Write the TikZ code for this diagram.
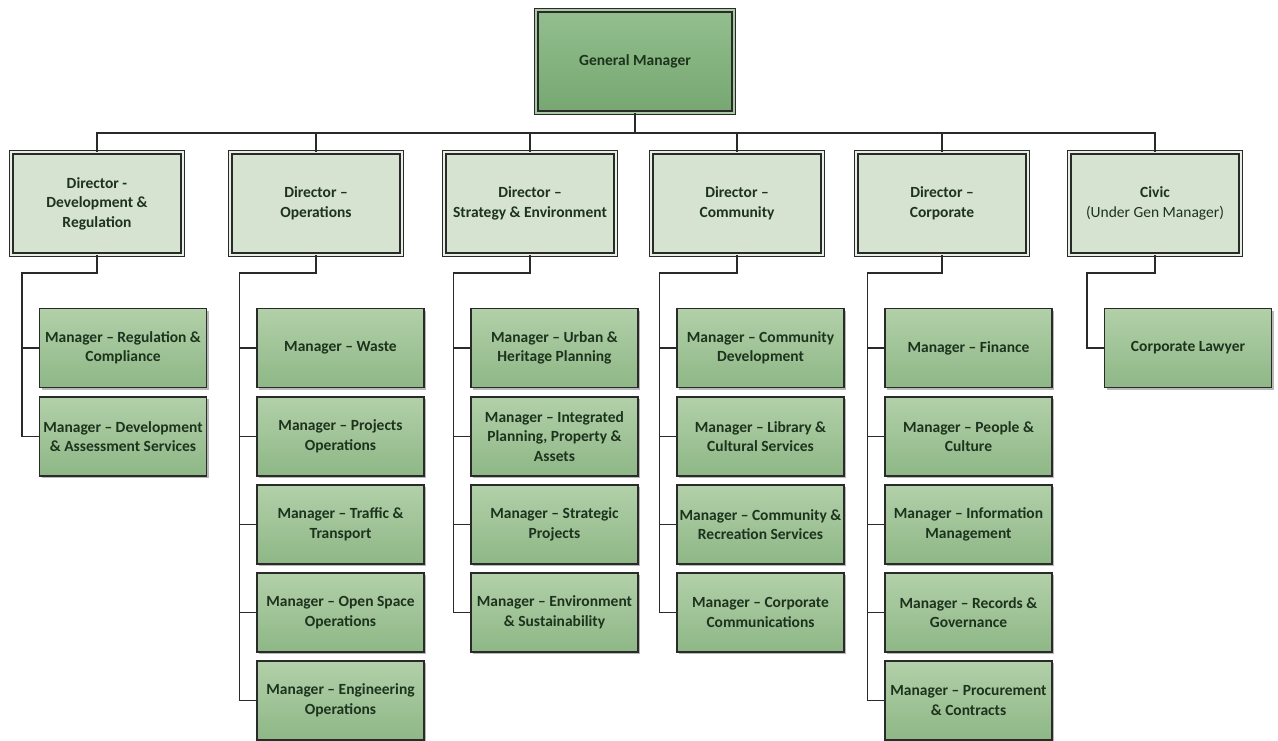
\documentclass[tikz,border=0pt]{standalone}
\usepackage{fontspec}
\setmainfont{Carlito}
\usetikzlibrary{shadows}
\definecolor{gmtop}{HTML}{93BF8E}
\definecolor{gmbot}{HTML}{76A771}
\definecolor{mgtop}{HTML}{B2D0A9}
\definecolor{mgbot}{HTML}{8EB786}
\definecolor{dirfill}{HTML}{D5E3D0}
\definecolor{dirgap}{HTML}{E8EFE5}
\definecolor{gmgap}{HTML}{A9CBA4}
\definecolor{txt}{HTML}{1D331D}
\definecolor{edge}{HTML}{2A2A2A}
\tikzset{
  lbl/.style={font=\fontsize{15.5}{19.5}\selectfont\bfseries, text=txt, align=center, inner sep=0pt},
  shad/.style={drop shadow={shadow xshift=2.2pt, shadow yshift=-2.2pt, fill=black, opacity=0.28}},
  gmbox/.style={lbl, shad, draw=edge, line width=1.1pt, double=gmgap, double distance=2.4pt,
    top color=gmtop, bottom color=gmbot, minimum width=197.5pt, minimum height=102.5pt},
  dirbox/.style={lbl, shad, draw=edge, line width=1.1pt, double=dirgap, double distance=2.4pt,
    fill=dirfill, minimum width=171.5pt, minimum height=102.5pt},
  mgrbox/.style={lbl, shad, draw=edge, line width=1.2pt, top color=mgtop, bottom color=mgbot,
    minimum width=167pt, minimum height=79pt},
  conn/.style={draw=edge, line width=1.3pt},
}
\begin{document}
\begin{tikzpicture}[x=1pt,y=-1pt]
\useasboundingbox (0,0) rectangle (1278,740);
\clip (0,0) rectangle (1278,740);
\fill[white] (0,0) rectangle (1278,740);
\coordinate (bus) at (0,133);
\coordinate (elb) at (0,273);

% connectors first (behind boxes)
\node[gmbox] (gm) at (635,61.5) {General Manager};

\node[dirbox] (d1) at (97,203.5) {Director -\\Development \&\\Regulation};
\node[dirbox] (d2) at (316,203.5) {Director –\\Operations};
\node[dirbox] (d3) at (530,203.5) {Director –\\Strategy \& Environment};
\node[dirbox] (d4) at (737,203.5) {Director –\\Community};
\node[dirbox] (d5) at (942,203.5) {Director –\\Corporate};
\node[dirbox] (d6) at (1155,203.5) {Civic\\{\mdseries (Under Gen Manager)}};

% managers
\node[mgrbox] (m11) at (123,348) {Manager – Regulation \&\\Compliance};
\node[mgrbox] (m12) at (123,436.5) {Manager – Development\\\& Assessment Services};

\node[mgrbox] (m21) at (340.5,348) {Manager – Waste};
\node[mgrbox] (m22) at (340.5,436.5) {Manager – Projects\\Operations};
\node[mgrbox] (m23) at (340.5,524.5) {Manager – Traffic \&\\Transport};
\node[mgrbox] (m24) at (340.5,612.5) {Manager – Open Space\\Operations};
\node[mgrbox] (m25) at (340.5,700.5) {Manager – Engineering\\Operations};

\node[mgrbox] (m31) at (554.5,348) {Manager – Urban \&\\Heritage Planning};
\node[mgrbox] (m32) at (554.5,436.5) {Manager – Integrated\\Planning, Property \&\\Assets};
\node[mgrbox] (m33) at (554.5,524.5) {Manager – Strategic\\Projects};
\node[mgrbox] (m34) at (554.5,612.5) {Manager – Environment\\\& Sustainability};

\node[mgrbox] (m41) at (760.5,348) {Manager – Community\\Development};
\node[mgrbox] (m42) at (760.5,436.5) {Manager – Library \&\\Cultural Services};
\node[mgrbox] (m43) at (760.5,524.5) {Manager – Community \&\\Recreation Services};
\node[mgrbox] (m44) at (760.5,612.5) {Manager – Corporate\\Communications};

\node[mgrbox] (m51) at (968.5,348) {Manager – Finance};
\node[mgrbox] (m52) at (968.5,436.5) {Manager – People \&\\Culture};
\node[mgrbox] (m53) at (968.5,524.5) {Manager – Information\\Management};
\node[mgrbox] (m54) at (968.5,612.5) {Manager – Records \&\\Governance};
\node[mgrbox] (m55) at (968.5,700.5) {Manager – Procurement\\\& Contracts};

\node[mgrbox] (m61) at (1188,348) {Corporate Lawyer};

% connectors
\begin{scope}[on background layer/.style={}]
\foreach \d in {d1,d2,d3,d4,d5,d6}
  \draw[conn] (gm.south) -- (gm.south |- bus) -| (\d.north);
\foreach \d/\m in {d1/m11,d1/m12,
                   d2/m21,d2/m22,d2/m23,d2/m24,d2/m25,
                   d3/m31,d3/m32,d3/m33,d3/m34,
                   d4/m41,d4/m42,d4/m43,d4/m44,
                   d5/m51,d5/m52,d5/m53,d5/m54,d5/m55,
                   d6/m61}
  \draw[conn] (\d.south) -- (\d.south |- elb) -| ([xshift=-17pt]\m.west) -- (\m.west);
\end{scope}
\end{tikzpicture}
\end{document}
